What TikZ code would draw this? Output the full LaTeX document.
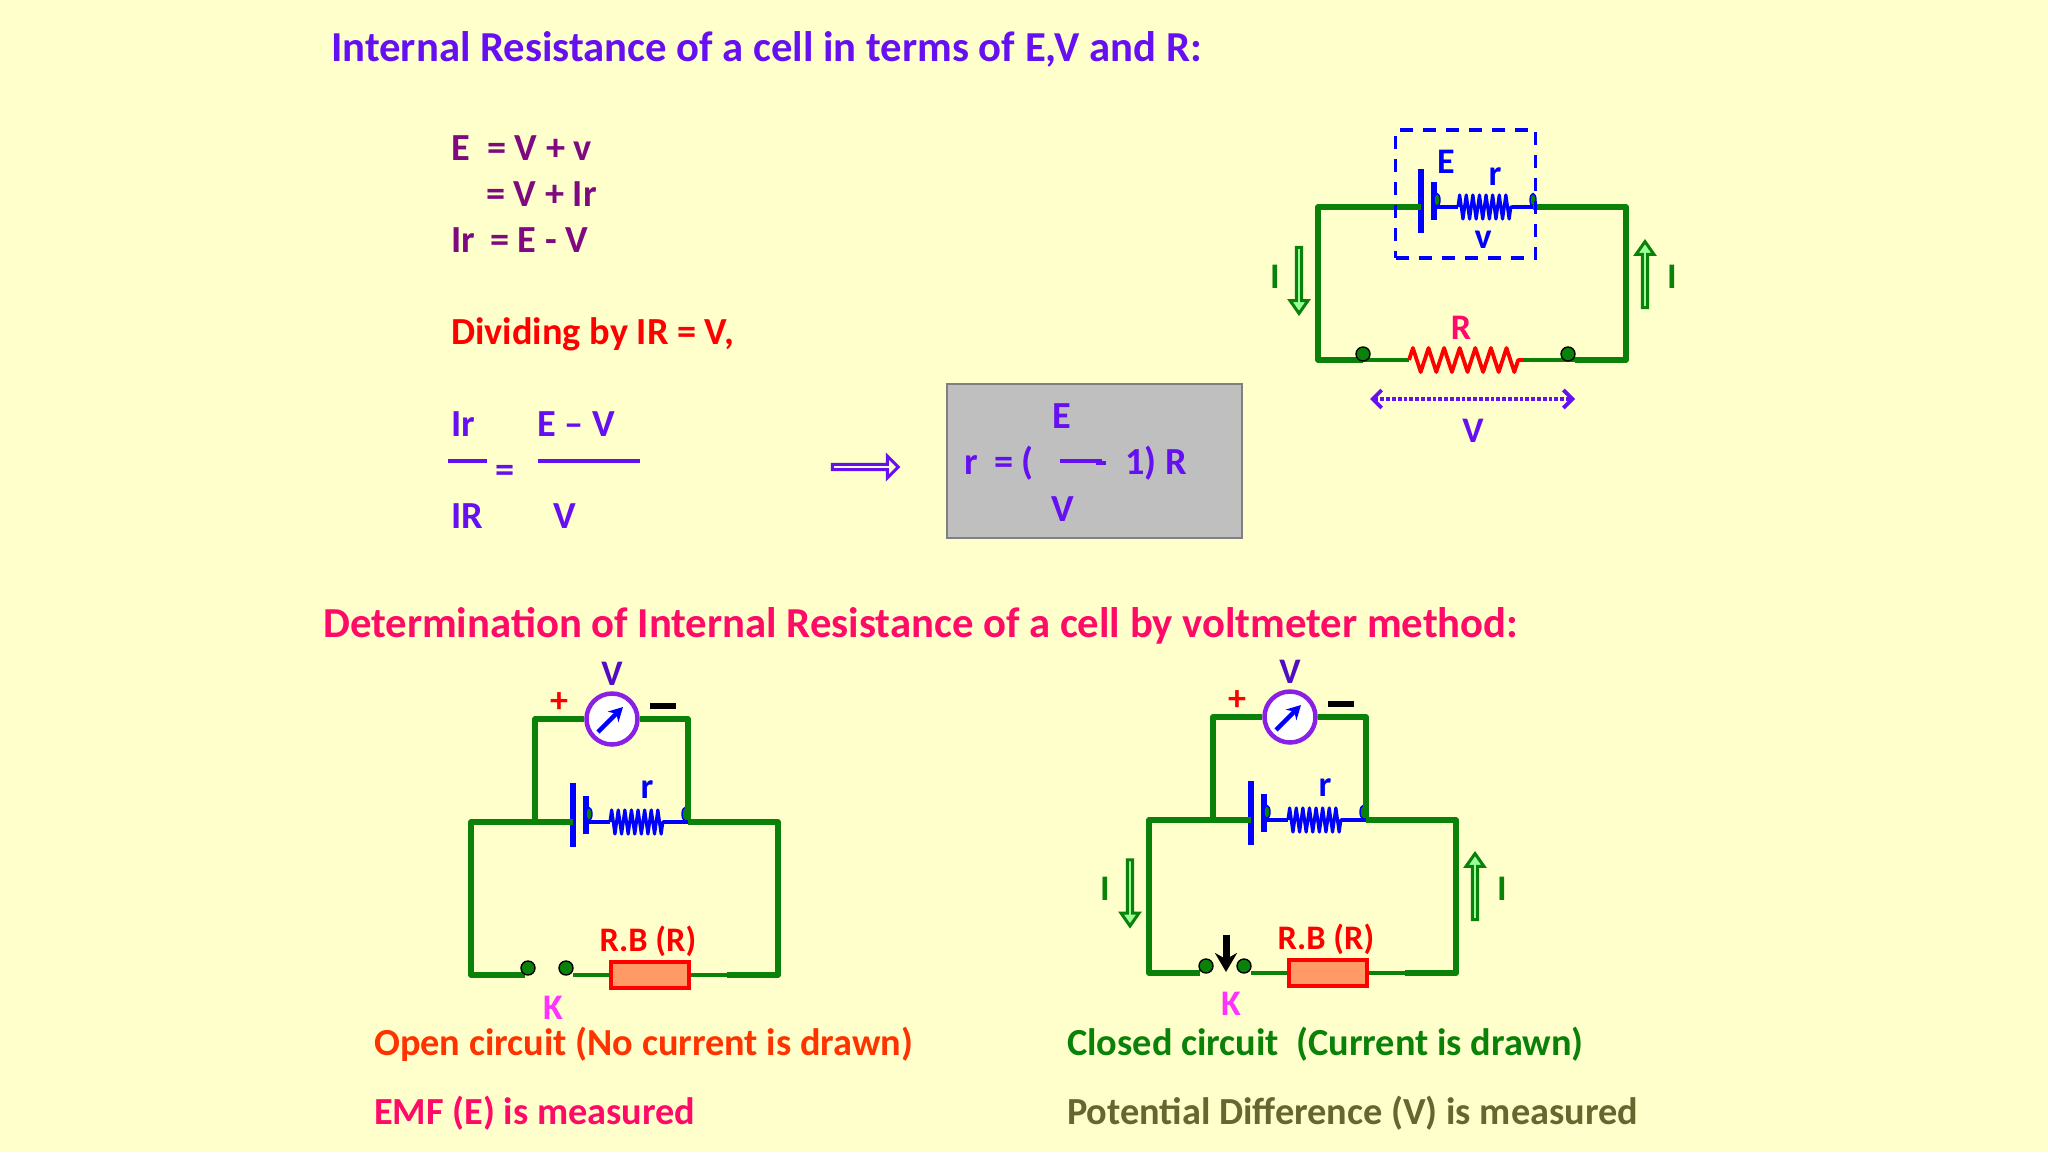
\documentclass[tikz,border=0pt]{standalone}
\usepackage{fontspec}
\setmainfont{Carlito}
\usetikzlibrary{arrows.meta,shapes.geometric,shapes.arrows}
\usetikzlibrary{decorations.pathmorphing}
\definecolor{paper}{HTML}{FFFFCC}
\definecolor{violetblue}{HTML}{6610F2}
\definecolor{plum}{HTML}{7F0A7F}
\definecolor{rosered}{HTML}{FF0A66}
\definecolor{wiregreen}{HTML}{0A820A}
\definecolor{paleg}{HTML}{99FF99}
\definecolor{boxorange}{HTML}{FF9966}
\definecolor{olive}{HTML}{66662E}
\definecolor{meterv}{HTML}{8A1FE6}
\definecolor{openred}{HTML}{FF3300}
\definecolor{keypink}{HTML}{FF33FF}
\begin{document}
\begin{tikzpicture}[x=1pt,y=-1pt,
      txt/.style={inner sep=0pt,anchor=base west,font=\bfseries\fontsize{38.3}{44}\selectfont},
      headt/.style={inner sep=0pt,anchor=base west,font=\bfseries\fontsize{42.7}{48}\selectfont},
      lbl/.style={inner sep=0pt,font=\bfseries\fontsize{36}{42}\selectfont},
      rblbl/.style={inner sep=0pt,font=\bfseries\fontsize{34.4}{40}\selectfont},
      wire/.style={wiregreen,line width=5.4pt,line join=round},
      thinwire/.style={wiregreen,line width=3.2pt},
      bluewire/.style={blue,line width=3.2pt},
      coilr/.style={blue,line width=3.2pt,line join=round,decorate,decoration={zigzag,amplitude=12pt,segment length=6.6pt}},
      zigr/.style={red,line width=3.8pt,line join=round,decorate,decoration={zigzag,amplitude=12pt,segment length=15.6pt}},
      longplate/.style={fill=blue,inner sep=0pt,minimum width=6pt,minimum height=64pt},
      shortplate/.style={fill=blue,inner sep=0pt,minimum width=6pt,minimum height=38pt},
      lug/.style={ellipse,draw=blue,fill=wiregreen,line width=1.4pt,inner sep=0pt,minimum width=6pt,minimum height=13pt},
      dot/.style={circle,draw=black,fill=wiregreen,line width=1.4pt,inner sep=0pt,minimum size=14pt},
      meter/.style={circle,draw=meterv,fill=white,line width=4.5pt,inner sep=0pt,minimum size=51pt},
      needle/.style={blue,line width=4.5pt,-{Stealth[length=14pt,width=15pt]}},
      rbox/.style={draw=red,fill=boxorange,line width=3.5pt,inner sep=0pt,minimum width=78pt,minimum height=26pt},
      flowdown/.style={single arrow,draw=wiregreen,fill=paleg,line width=3pt,rotate=-90,inner sep=0pt,
        minimum height=66pt,minimum width=18pt,single arrow head extend=3.5pt,single arrow tip angle=70},
      ]
  \useasboundingbox (0,0) rectangle (2048,1152);
  \fill[paper] (0,0) rectangle (2048,1152);
  % heading and working
  \node[headt,violetblue] (head) at (331,61) {Internal Resistance of a cell in terms of E,V and R:};
  \node[txt,plum] (e1) at (451,160) {E};
  \node[txt,plum] (e2) at (487,160) {= V + v};
  \node[txt,plum] (e3) at (486,206) {= V + Ir};
  \node[txt,plum] (e4) at (451,252) {Ir};
  \node[txt,plum] (e5) at (490,252) {= E - V};
  \node[txt,red] (div) at (451,344) {Dividing by IR = V,};
  % fractions
  \node[txt,violetblue] (fa) at (451,436) {Ir};
  \node[txt,violetblue] (fb) at (537,436) {E -- V};
  \node[txt,violetblue] (fc) at (451,528) {IR};
  \node[txt,violetblue] (fd) at (553,528) {V};
  \node[txt,violetblue] (fe) at (495,482) {=};
  \coordinate (la) at (448,461);
  \coordinate (lb) at (487,461);
  \coordinate (lc) at (538,461);
  \coordinate (ld) at (640,461);
  \draw[violetblue,line width=3.2pt] (la) -- (lb);
  \draw[violetblue,line width=3.2pt] (lc) -- (ld);
  \node[single arrow,draw=violetblue,fill=paper,line width=3pt,inner sep=0pt,minimum height=66pt,
    minimum width=22pt,single arrow head extend=5pt,single arrow tip angle=90] (impl) at (864,467) {};
  % result box
  \node[draw=black!50,fill=black!25,line width=1.5pt,inner sep=0pt,minimum width=295pt,minimum height=154pt] (res) at (1094.5,461) {};
  \node[txt,violetblue] (ra) at (964,474) {r};
  \node[txt,violetblue] (rb) at (994,474) {= (};
  \node[txt,violetblue] (rc) at (1052,428) {E};
  \node[txt,violetblue] (rd) at (1051,521) {V};
  \node[txt,violetblue] (re) at (1125,474) {1) R};
  \coordinate (le) at (1060,461);
  \coordinate (lf) at (1102,461);
  \coordinate (lg) at (1096,463);
  \coordinate (lh) at (1106,463);
  \draw[violetblue,line width=3.2pt] (le) -- (lf);
  \draw[violetblue,line width=4pt] (lg) -- (lh);
  % cell with external resistor
  \coordinate (tl) at (1318,207);
  \coordinate (tr) at (1626,207);
  \coordinate (bl) at (1318,360);
  \coordinate (br) at (1626,360);
  \coordinate (cs) at (1458,207);
  \coordinate (ce) at (1512,207);
  \coordinate (zs) at (1409,360);
  \coordinate (ze) at (1523,360);
  \coordinate (wb) at (1575,360);
  \node[longplate] (p1) at (1421,201) {};
  \node[shortplate] (p2) at (1434,201) {};
  \node[lug] (u1) at (1437,200) {};
  \node[lug] (u2) at (1533,200) {};
  \draw[wire] (p1 |- tl) -- (tl) -- (bl) -- (1363,360);
  \draw[wire] (u2 |- tr) -- (tr) -- (br) -- (wb);
  \draw[thinwire] (1363,360) -- (zs);
  \draw[thinwire] (ze) -- (wb);
  \node[dot] (d1) at (1363,354) {};
  \node[dot] (d2) at (1568,354) {};
  \draw[bluewire] (p2 |- cs) -- (cs);
  \draw[bluewire] (ce) -- (u2 |- ce);
  \draw[coilr] (cs) -- (ce);
  \draw[zigr] (zs) -- (ze);
  \node[inner sep=0pt,draw=blue,dash pattern=on 13pt off 10pt,line width=3.4pt,minimum width=140pt,minimum height=128pt] (cellbox) at (1465.5,194) {};
  \node[lbl,blue] (tE) at (1446,162) {E};
  \node[lbl,blue] (tr1) at (1495,177) {r};
  \node[lbl,blue] (tv) at (1483,240) {v};
  \node[lbl,rosered] (tR) at (1461,328) {R};
  \node[lbl,violetblue] (tV) at (1473,431) {V};
  \coordinate (va) at (1370,399);
  \coordinate (vb) at (1575,399);
  \draw[violetblue,line width=3.8pt,dotted,{Straight Barb[length=9pt,width=18pt]}-{Straight Barb[length=9pt,width=18pt]}] (va) -- (vb);
  \node[flowdown] (f1) at (1299,278.5) {};
  \node[flowdown,rotate=180] (f2) at (1645,276.5) {};
  \node[lbl,wiregreen] (i1) at (1275,277) {I};
  \node[lbl,wiregreen] (i2) at (1672,277) {I};
  % second heading
  \node[headt,rosered] (head2) at (323,637) {Determination of Internal Resistance of a cell by voltmeter method:};
  % open circuit
  \begin{scope}[name prefix=o]
    \coordinate (ltop) at (471,822);
    \coordinate (lbot) at (471,975);
    \coordinate (rtop) at (778,822);
    \coordinate (rbot) at (778,975);
    \coordinate (vl) at (535,822);
    \coordinate (vtl) at (535,719);
    \coordinate (vtr) at (688,719);
    \coordinate (vr) at (688,822);
    \coordinate (cs) at (610,822);
    \coordinate (ce) at (663,822);
    \coordinate (wa) at (573,975);
    \coordinate (wc) at (727,975);
    \coordinate (na) at (598,732);
    \coordinate (nb) at (623,707);
    \coordinate (ma) at (650,706);
    \coordinate (mb) at (676,706);
    \node[longplate] (p1) at (573,815) {};
    \node[shortplate] (p2) at (586,815) {};
    \node[lug] (u1) at (589,814) {};
    \node[lug] (u2) at (685,814) {};
    \node[meter] (m) at (612,719) {};
    \node[rbox] (rb) at (650,975) {};
    \draw[wire] (vl) -- (vtl) -- (m.west);
    \draw[wire] (m.east) -- (vtr) -- (vr);
    \draw[wire] (p1 |- ltop) -- (ltop) -- (lbot) -- (525,975);
    \draw[wire] (vr) -- (rtop) -- (rbot) -- (wc);
    \draw[thinwire] (wa) -- (rb.west);
    \draw[thinwire] (rb.east) -- (wc);
    \node[dot] (ka) at (528,968) {};
    \node[dot] (kb) at (566,968) {};
    \draw[bluewire] (p2 |- cs) -- (cs);
    \draw[bluewire] (ce) -- (vr);
    \draw[coilr] (cs) -- (ce);
    \draw[needle] (na) -- (nb);
    \draw[black,line width=6pt] (ma) -- (mb);
    \node[lbl,blue] (tr1) at (647,790) {r};
    \node[lbl,violetblue!80!black] (tV) at (612,674) {V};
    \node[lbl,red] (tp) at (559,703) {+};
    \node[rblbl,red] (tb) at (648,941) {R.B (R)};
    \node[lbl,keypink] (tk) at (553,1008) {K};
  \end{scope}
  % closed circuit
  \begin{scope}[name prefix=c]
    \coordinate (ltop) at (1149,820);
    \coordinate (lbot) at (1149,973);
    \coordinate (rtop) at (1456,820);
    \coordinate (rbot) at (1456,973);
    \coordinate (vl) at (1213,820);
    \coordinate (vtl) at (1213,717);
    \coordinate (vtr) at (1366,717);
    \coordinate (vr) at (1366,820);
    \coordinate (cs) at (1288,820);
    \coordinate (ce) at (1341,820);
    \coordinate (wa) at (1251,973);
    \coordinate (wc) at (1405,973);
    \coordinate (na) at (1276,730);
    \coordinate (nb) at (1301,705);
    \coordinate (ma) at (1328,704);
    \coordinate (mb) at (1354,704);
    \coordinate (sa) at (1226,935);
    \coordinate (sb) at (1226,972);
    \node[longplate] (p1) at (1251,813) {};
    \node[shortplate] (p2) at (1264,813) {};
    \node[lug] (u1) at (1267,812) {};
    \node[lug] (u2) at (1363,812) {};
    \node[meter] (m) at (1290,717) {};
    \node[rbox] (rb) at (1328,973) {};
    \draw[wire] (vl) -- (vtl) -- (m.west);
    \draw[wire] (m.east) -- (vtr) -- (vr);
    \draw[wire] (p1 |- ltop) -- (ltop) -- (lbot) -- (1200,973);
    \draw[wire] (vr) -- (rtop) -- (rbot) -- (wc);
    \draw[thinwire] (wa) -- (rb.west);
    \draw[thinwire] (rb.east) -- (wc);
    \node[dot] (ka) at (1206,966) {};
    \node[dot] (kb) at (1244,966) {};
    \draw[bluewire] (p2 |- cs) -- (cs);
    \draw[bluewire] (ce) -- (vr);
    \draw[coilr] (cs) -- (ce);
    \draw[needle] (na) -- (nb);
    \draw[black,line width=6pt] (ma) -- (mb);
    \draw[black,line width=7pt,-{Stealth[length=19pt,width=22pt]}] (sa) -- (sb);
    \node[lbl,blue] (tr1) at (1325,788) {r};
    \node[lbl,violetblue!80!black] (tV) at (1290,672) {V};
    \node[lbl,red] (tp) at (1237,701) {+};
    \node[rblbl,red] (tb) at (1326,939) {R.B (R)};
    \node[lbl,keypink] (tk) at (1231,1004) {K};
    \node[flowdown] (f1) at (1130,891) {};
    \node[flowdown,rotate=180] (f2) at (1475,888.5) {};
    \node[lbl,wiregreen] (i1) at (1105,889) {I};
    \node[lbl,wiregreen] (i2) at (1502,889) {I};
  \end{scope}
  % captions
  \node[txt,openred] (cap1) at (374,1055) {Open circuit (No current is drawn)};
  \node[txt,rosered] (cap2) at (374,1124) {EMF (E) is measured};
  \node[txt,wiregreen] (cap3) at (1067,1055) {Closed circuit\ \ (Current is drawn)};
  \node[txt,olive] (cap4) at (1067,1124) {Potential Difference (V) is measured};
\end{tikzpicture}
\end{document}
